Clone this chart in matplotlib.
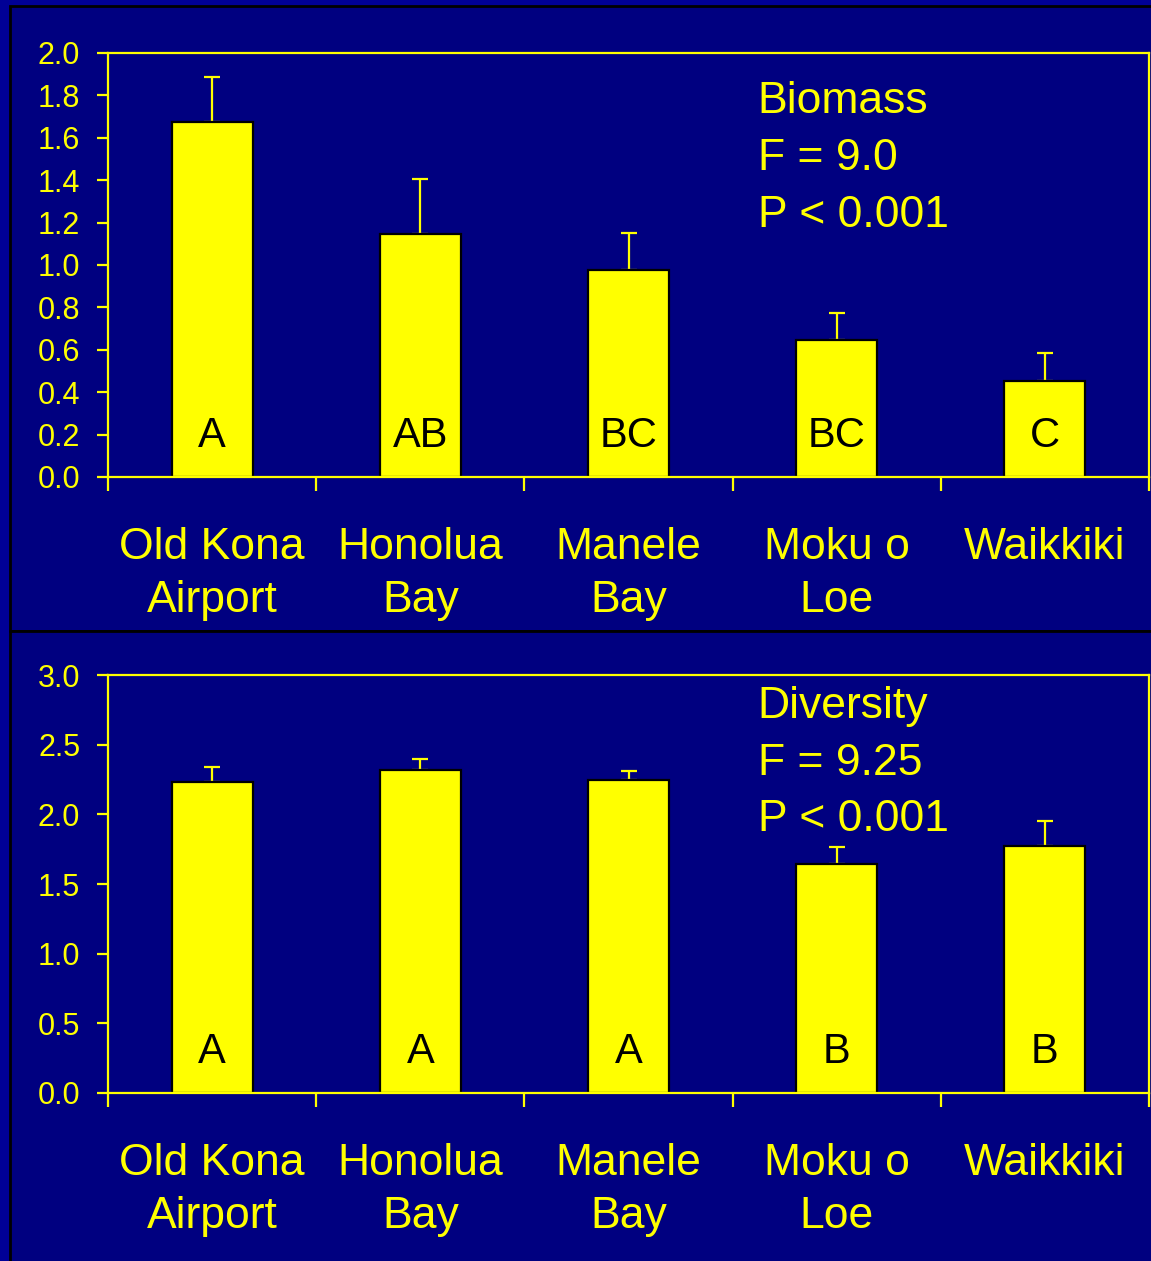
import numpy as np
import matplotlib
matplotlib.use("Agg")
import matplotlib.pyplot as plt
from matplotlib.patches import Rectangle

plt.rcParams['font.family'] = ['Liberation Sans', 'DejaVu Sans']

# data
sites = ["Old Kona\nAirport", "Honolua\nBay", "Manele\nBay", "Moku o\nLoe", "Waikkiki"]

biomass = [1.675, 1.146, 0.976, 0.646, 0.453]
biomass_err = [0.212, 0.260, 0.175, 0.128, 0.132]
biomass_groups = ["A", "AB", "BC", "BC", "C"]
biomass_stats = ["Biomass", "F = 9.0", "P < 0.001"]

diversity = [2.232, 2.318, 2.246, 1.644, 1.773]
diversity_err = [0.108, 0.079, 0.065, 0.122, 0.179]
diversity_groups = ["A", "A", "A", "B", "B"]
diversity_stats = ["Diversity", "F = 9.25", "P < 0.001"]

YELLOW = "#FFFF00"
NAVY = "#000080"
OUTER = "#000096"

W, H = 1151, 1261
fig = plt.figure(figsize=(W / 100, H / 100), dpi=100, facecolor=OUTER)

# panel backgrounds with black frames
for top, bot in [(6, 631), (631, 1275)]:
    fig.patches.append(Rectangle((10 / W, 1 - bot / H), 1.2, (bot - top) / H,
                                 transform=fig.transFigure, facecolor=NAVY,
                                 edgecolor="black", linewidth=2, zorder=-5))


def panel(rect, vals, errs, groups, stats, ymax, ystep, letter_y, stat_y):
    ax = fig.add_axes(rect)
    ax.set_zorder(2)
    ax.set_facecolor("none")
    x = np.arange(len(vals))
    ax.errorbar(x, vals, yerr=[np.zeros(len(errs)), errs], fmt="none",
                ecolor=YELLOW, elinewidth=1.6, capsize=6, capthick=1.6, zorder=1)
    ax.bar(x, vals, width=0.39, color=YELLOW, edgecolor="black", linewidth=1.6, zorder=2)
    for xi, g in zip(x, groups):
        ax.text(xi, letter_y, g, ha="center", va="baseline", fontsize=30, color="black", zorder=3)
    for s, yy in zip(stats, stat_y):
        ax.text(0.624, yy, s, transform=ax.transAxes, ha="left", va="baseline",
                fontsize=32, color=YELLOW)

    ticks = np.arange(0, ymax + ystep / 2, ystep)
    ax.set_xlim(-0.5, len(vals) - 0.5)
    ax.set_ylim(0, ymax)
    ax.set_yticks(ticks)
    ax.set_yticklabels([f"{v:.1f}" for v in ticks])
    ax.set_xticks(np.arange(-0.5, len(vals)), minor=False)
    ax.set_xticklabels([])
    ax.set_xticks(x, minor=True)
    ax.set_xticklabels(sites, minor=True, fontsize=32, color=YELLOW, linespacing=1.38)
    ax.tick_params(axis="x", which="major", direction="out", length=10, width=1.6, color=YELLOW)
    ax.tick_params(axis="x", which="minor", length=0, pad=36)
    ax.tick_params(axis="y", direction="out", length=8, width=1.6, color=YELLOW,
                   labelcolor=YELLOW, labelsize=22, pad=12)
    for sp in ax.spines.values():
        sp.set_color(YELLOW)
        sp.set_linewidth(1.6)
    return ax


panel([108 / W, 1 - 477 / H, 1041 / W, 424 / H], biomass, biomass_err, biomass_groups,
      biomass_stats, 2.0, 0.2, 0.1415, [0.858, 0.724, 0.590])
panel([108 / W, 1 - 1093 / H, 1041 / W, 418 / H], diversity, diversity_err, diversity_groups,
      diversity_stats, 3.0, 0.5, 0.215, [0.897, 0.761, 0.627])

fig.savefig("out.png", dpi=100, facecolor=OUTER)
